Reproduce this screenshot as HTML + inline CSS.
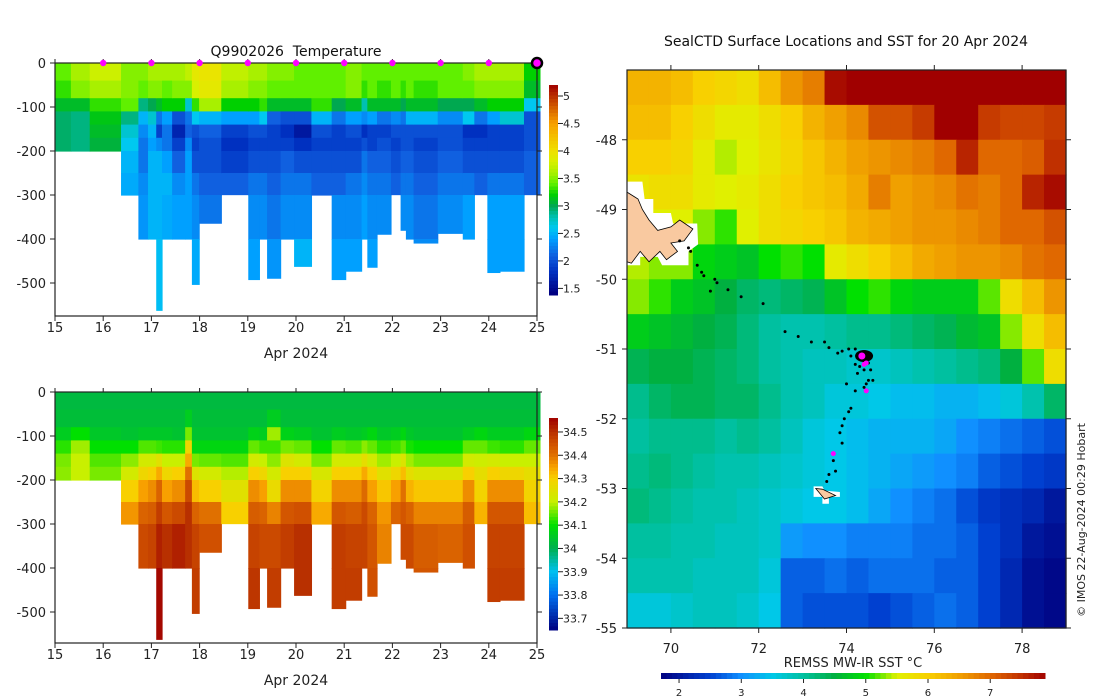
<!DOCTYPE html>
<html><head><meta charset="utf-8">
<style>
body{margin:0;background:#fff;}
svg{display:block;font-family:"DejaVu Sans","Liberation Sans",sans-serif;}
</style></head>
<body>
<svg id="s" width="1100" height="700" viewBox="0 0 1100 700" xmlns="http://www.w3.org/2000/svg">
<rect width="1100" height="700" fill="#fff"/>
<g id="gT"></g>
<g id="gS"></g>
<g id="gM"></g>
</svg>
<script>
// ---- Section data ----
const colStart=[15.0,15.33,15.72,16.37,16.73,16.93,17.10,17.22,17.43,17.70,17.84,17.99,18.45,19.01,19.24,19.40,19.68,19.96,20.32,20.74,21.03,21.36,21.48,21.68,21.97,22.17,22.28,22.44,22.94,23.46,23.70,23.97,24.23,24.73];
const colEnd=25.06;
const colMaxDepth=[202,202,200,335,412,401,562,401,428,401,503,364,299,492,418,489,435,462,320,492,473,401,464,389,299,380,401,409,387,437,299,476,473,299];
const binEdges=[0,40,80,110,140,170,200,250,300,400,600];
const tempProfiles=[
[3.4,3.3,3.1,2.95,2.95,2.95],
[3.6,3.5,3.1,2.9,2.9,2.9],
[3.75,3.6,3.3,3.15,3.1,3.05],
[3.5,3.5,3.4,2.9,2.7,2.6,2.5,2.45],
[3.5,3.4,2.9,2.5,2.3,2.2,2.2,2.3,2.35],
[3.6,3.5,3.0,2.7,2.5,2.4,2.5,2.5,2.5],
[3.6,3.5,3.1,2.2,1.9,2.3,2.5,2.5,2.5,2.55],
[3.6,3.4,3.2,2.4,2.2,2.2,2.4,2.5,2.45],
[3.6,3.5,3.2,2.0,1.7,1.9,2.1,2.3,2.4],
[3.7,3.5,2.7,2.2,2.1,2.3,2.4,2.4,2.4],
[3.9,3.8,3.3,2.6,2.0,1.9,2.0,2.2,2.3,2.45],
[3.95,3.9,3.6,2.5,2.1,2.0,2.0,2.1,2.2],
[3.7,3.6,3.2,2.4,1.9,1.8,1.9,2.1],
[3.6,3.5,3.2,2.4,2.0,1.9,2.0,2.2,2.3,2.4],
[3.6,3.5,3.3,2.6,2.0,1.9,2.0,2.2,2.3],
[3.5,3.4,3.1,2.1,1.9,1.9,2.0,2.1,2.2,2.35],
[3.5,3.4,3.1,2.0,1.8,1.9,2.1,2.2,2.3],
[3.4,3.4,3.1,2.0,1.6,1.8,2.0,2.2,2.3,2.5],
[3.4,3.4,3.3,2.5,2.0,1.9,2.0,2.1],
[3.4,3.4,3.0,2.2,1.9,1.9,2.0,2.1,2.3,2.4],
[3.5,3.5,3.1,2.4,2.0,1.9,2.0,2.2,2.3,2.4],
[3.4,3.3,2.8,2.3,1.8,2.0,2.2,2.3,2.4],
[3.4,3.4,3.1,2.4,1.9,1.9,2.1,2.2,2.3,2.4],
[3.4,3.3,3.1,2.2,1.9,2.0,2.1,2.2,2.3],
[3.4,3.4,3.1,2.3,2.0,1.9,2.0,2.1],
[3.4,3.3,3.0,2.2,2.0,2.0,2.1,2.2,2.3],
[3.4,3.4,3.1,2.5,2.0,2.0,2.1,2.2,2.3],
[3.4,3.3,3.1,2.5,2.0,1.9,2.0,2.1,2.2,2.3],
[3.4,3.4,3.0,2.3,2.0,2.0,2.1,2.2,2.3],
[3.5,3.4,3.0,2.6,1.8,1.9,2.0,2.2,2.4],
[3.6,3.5,3.1,2.2,1.8,1.9,2.0,2.1],
[3.6,3.5,3.2,2.4,1.9,1.9,2.0,2.2,2.4,2.4],
[3.6,3.5,3.2,2.7,1.9,1.9,2.0,2.2,2.4,2.4],
[3.2,3.1,2.6,2.0,2.0,2.0,2.1,2.1]];
const salProfiles=[
[34.02,34.03,34.06,34.12,34.16,34.17],
[34.02,34.03,34.1,34.18,34.2,34.2],
[34.02,34.03,34.05,34.1,34.14,34.16],
[34.02,34.03,34.04,34.1,34.17,34.22,34.3,34.36],
[34.02,34.03,34.05,34.14,34.22,34.28,34.35,34.42,34.46],
[34.02,34.03,34.05,34.14,34.22,34.3,34.37,34.43,34.47],
[34.02,34.03,34.05,34.13,34.25,34.34,34.42,34.48,34.52,34.55],
[34.02,34.03,34.05,34.12,34.2,34.28,34.35,34.44,34.5],
[34.02,34.03,34.04,34.12,34.2,34.3,34.37,34.46,34.52],
[34.02,34.06,34.16,34.28,34.34,34.4,34.46,34.5,34.5],
[34.02,34.03,34.04,34.08,34.16,34.24,34.32,34.42,34.47,34.48],
[34.02,34.03,34.04,34.08,34.15,34.22,34.3,34.4,34.45],
[34.02,34.03,34.04,34.08,34.14,34.19,34.25,34.3],
[34.02,34.03,34.07,34.15,34.22,34.3,34.37,34.43,34.47,34.49],
[34.02,34.03,34.06,34.13,34.2,34.28,34.35,34.42,34.46],
[34.02,34.06,34.18,34.13,34.17,34.22,34.27,34.38,34.46,34.48],
[34.02,34.03,34.07,34.16,34.24,34.3,34.37,34.44,34.48],
[34.02,34.03,34.06,34.15,34.22,34.3,34.37,34.45,34.5,34.5],
[34.02,34.03,34.04,34.1,34.16,34.23,34.29,34.34],
[34.02,34.03,34.06,34.15,34.22,34.3,34.37,34.44,34.48,34.48],
[34.02,34.03,34.05,34.14,34.22,34.3,34.37,34.43,34.47,34.48],
[34.02,34.03,34.06,34.17,34.26,34.34,34.41,34.46,34.47],
[34.02,34.03,34.08,34.15,34.22,34.3,34.35,34.42,34.44,34.45],
[34.02,34.03,34.05,34.12,34.18,34.25,34.31,34.36,34.38],
[34.02,34.03,34.06,34.13,34.2,34.28,34.35,34.42],
[34.02,34.03,34.08,34.15,34.24,34.32,34.4,34.44,34.46],
[34.02,34.03,34.05,34.11,34.18,34.26,34.33,34.42,34.46],
[34.02,34.03,34.04,34.1,34.16,34.24,34.31,34.38,34.43,34.44],
[34.02,34.03,34.04,34.1,34.16,34.24,34.31,34.38,34.42],
[34.02,34.03,34.06,34.15,34.22,34.3,34.37,34.43,34.45],
[34.02,34.03,34.08,34.15,34.21,34.26,34.29,34.33],
[34.02,34.03,34.06,34.13,34.22,34.3,34.37,34.44,34.47,34.48],
[34.02,34.03,34.06,34.12,34.2,34.28,34.37,34.44,34.47,34.48],
[34.02,34.03,34.08,34.15,34.2,34.26,34.29,34.32]];
const surfDays=[16,17,18,19,20,21,22,23,24];
const lastDay=25;
const dayTicks=[15,16,17,18,19,20,21,22,23,24,25];
const depthTicks=[0,-100,-200,-300,-400,-500];
const tempCbTicks=[1.5,2,2.5,3,3.5,4,4.5,5];
const salCbTicks=[33.7,33.8,33.9,34,34.1,34.2,34.3,34.4,34.5];

// ---- Map data (0.5 deg cells, lat -47 to -55, lon 69 to 79) ----
const sstRows=[
[6.3,6.3,6.2,6.0,5.9,5.8,6.2,6.6,6.8,7.8,7.9,7.9,7.9,7.9,7.9,7.9,7.9,7.9,7.9,7.9],
[6.2,6.2,6.0,5.8,5.6,5.6,5.8,6.0,6.3,6.5,6.7,7.2,7.2,7.4,7.9,7.9,7.4,7.3,7.3,7.4],
[6.0,6.0,5.9,5.6,5.4,5.5,5.7,5.9,6.1,6.3,6.5,6.6,6.7,6.8,7.0,7.6,7.0,7.0,7.1,7.5],
[5.7,5.8,5.8,5.6,5.5,5.6,5.8,6.0,6.1,6.2,6.4,6.8,6.5,6.6,6.7,6.9,6.8,7.0,7.6,7.8],
[5.5,5.5,5.5,5.3,5.1,5.5,5.8,5.9,6.0,6.1,6.3,6.4,6.5,6.6,6.6,6.7,6.8,7.0,7.0,7.2],
[5.4,5.3,5.3,4.9,4.8,4.7,5.0,5.1,5.0,5.6,5.8,6.0,6.2,6.4,6.5,6.6,6.6,6.7,6.9,7.0],
[5.3,5.1,4.8,4.7,4.5,4.3,4.2,4.3,4.4,4.7,5.0,5.1,4.9,4.8,4.8,4.8,5.2,5.8,6.2,6.6],
[4.8,4.7,4.6,4.5,4.4,4.2,4.0,3.9,3.9,4.0,4.1,4.1,4.2,4.3,4.4,4.6,4.7,5.3,5.8,6.2],
[4.4,4.5,4.5,4.4,4.3,4.2,4.0,3.9,3.8,3.8,3.7,3.7,3.8,3.9,4.0,4.1,4.2,4.5,5.2,5.8],
[4.1,4.3,4.4,4.4,4.3,4.3,4.1,3.9,3.8,3.6,3.6,3.5,3.4,3.4,3.3,3.3,3.4,3.6,3.9,4.3],
[4.0,4.1,4.1,4.1,4.0,4.1,4.0,3.8,3.6,3.5,3.4,3.3,3.3,3.3,3.2,3.0,2.9,2.8,2.7,2.6],
[4.1,4.2,4.1,4.0,3.9,3.9,3.8,3.7,3.6,3.5,3.4,3.3,3.2,3.1,3.0,2.9,2.7,2.6,2.5,2.4],
[4.2,4.1,4.0,3.9,3.9,3.8,3.7,3.6,3.5,3.5,3.4,3.2,3.0,2.9,2.8,2.6,2.4,2.3,2.2,2.0],
[4.0,4.0,3.9,3.9,3.8,3.8,3.7,3.1,3.0,3.0,2.9,2.9,2.9,2.8,2.8,2.7,2.5,2.3,2.0,1.9],
[3.9,3.9,3.9,3.8,3.8,3.8,3.6,2.7,2.7,2.8,2.7,2.8,2.8,2.8,2.7,2.7,2.5,2.2,1.9,1.8],
[3.6,3.6,3.7,3.8,3.8,3.7,3.5,2.7,2.6,2.6,2.6,2.5,2.6,2.7,2.8,2.7,2.5,2.2,1.9,1.8]];
const trackLon=[70.2,70.4,70.45,70.6,70.7,70.75,71.0,71.05,70.9,71.3,71.6,72.1,72.6,72.9,73.2,73.5,73.6,73.9,74.05,73.8,74.1,74.2,74.3,74.4,74.5,74.55,74.6,74.45,74.4,74.25,74.0,74.2,74.5,74.4,74.3,74.2,74.3,74.1,74.05,73.95,73.9,73.85,73.9,73.7,73.75,73.6,73.55];
const trackLat=[-49.45,-49.55,-49.6,-49.8,-49.9,-49.95,-50.0,-50.05,-50.17,-50.15,-50.25,-50.35,-50.75,-50.82,-50.9,-50.9,-50.98,-51.03,-51.0,-51.06,-51.1,-51.0,-51.15,-51.2,-51.2,-51.3,-51.45,-51.5,-51.3,-51.35,-51.5,-51.6,-51.45,-51.55,-51.25,-51.22,-51.12,-51.85,-51.9,-52.0,-52.1,-52.2,-52.35,-52.6,-52.75,-52.8,-52.9];
const magLon=[74.45,73.7,74.4,74.45];
const magLat=[-51.6,-52.5,-51.22,-51.2];
const curLon=74.35, curLat=-51.1;
const lonTicks=[70,72,74,76,78];
const latTicks=[-48,-49,-50,-51,-52,-53,-54,-55];
const sstCbTicks=[2,3,4,5,6,7];

// ---- helpers ----
const NS='http://www.w3.org/2000/svg';
function mk(parent,tag,attrs,text){const e=document.createElementNS(NS,tag);for(const k in attrs)e.setAttribute(k,attrs[k]);if(text!==undefined)e.textContent=text;parent.appendChild(e);return e;}
function hex(h){return [parseInt(h.substr(1,2),16),parseInt(h.substr(3,2),16),parseInt(h.substr(5,2),16)];}
function lerpStops(stops,v){if(v<=stops[0][0])return stops[0][1];for(let i=1;i<stops.length;i++){if(v<=stops[i][0]){const a=stops[i-1],b=stops[i];const t=(v-a[0])/(b[0]-a[0]);const ca=hex(a[1]),cb=hex(b[1]);return 'rgb('+ca.map((c,j)=>Math.round(c+(cb[j]-c)*t)).join(',')+')';}}return stops[stops.length-1][1];}
const tempStops=[[1.4,'#000080'],[1.8,'#0030c0'],[2.1,'#1060e0'],[2.4,'#00a0ff'],[2.6,'#00c8f0'],[2.8,'#00c0b0'],[3.0,'#00a850'],[3.2,'#00d000'],[3.4,'#60f000'],[3.6,'#a8f000'],[3.8,'#d8f000'],[4.0,'#f0e000'],[4.5,'#f8a000'],[5.2,'#a00000']];
const salStops=[[33.65,'#000080'],[33.8,'#0070f0'],[33.9,'#00c0f0'],[34.0,'#00b050'],[34.1,'#00e000'],[34.2,'#c8f000'],[34.3,'#f8d000'],[34.35,'#f8a000'],[34.4,'#e07000'],[34.45,'#d05000'],[34.5,'#b83000'],[34.56,'#a00000']];
const sstStops=[[1.7,'#00007f'],[2.5,'#0040d0'],[3.0,'#1090ff'],[3.5,'#00c8e8'],[4.0,'#00c0a0'],[4.5,'#00b040'],[5.0,'#00e000'],[5.5,'#e0f000'],[6.0,'#f8d000'],[6.5,'#f0a000'],[7.0,'#e06800'],[7.5,'#c03000'],[7.9,'#a00000']];

function section(g,x0,x1,y0,y1,stops,profiles,cbY0,cbY1,cbMin,cbMax,cbTicks,withDots,title,xlab){
  const xs=d=>x0+(d-15)/10*(x1-x0);
  const ys=m=>y0+m*0.44;
  for(let c=0;c<colStart.length;c++){
    const a=xs(colStart[c]),b=xs(c+1<colStart.length?colStart[c+1]:colEnd);
    const prof=profiles[c];
    for(let k=0;k<prof.length;k++){
      const top=binEdges[k],bot=Math.min(binEdges[k+1],colMaxDepth[c]);
      if(top>=colMaxDepth[c])break;
      const r=mk(g,'rect',{x:a.toFixed(2),y:ys(top).toFixed(2),width:(b-a+0.6).toFixed(2),height:(ys(bot)-ys(top)+0.6).toFixed(2),fill:lerpStops(stops,prof[k])});
      
      
    }
  }
  mk(g,'rect',{x:x0,y:y0,width:x1-x0,height:y1-y0,fill:'none',stroke:'#222','stroke-width':1.2});
  for(const d of dayTicks){const x=xs(d);mk(g,'line',{x1:x,x2:x,y1:y1,y2:y1+5,stroke:'#222'});mk(g,'line',{x1:x,x2:x,y1:y0,y2:y0-4,stroke:'#222'});
    const t=mk(g,'text',{x:x,y:y1+16,'text-anchor':'middle','font-size':13,fill:'#222'},d);}
  for(const m of depthTicks){const y=ys(-m);mk(g,'line',{x1:x0-5,x2:x0,y1:y,y2:y,stroke:'#222'});mk(g,'line',{x1:x1,x2:x1+5,y1:y,y2:y,stroke:'#222'});
    const t=mk(g,'text',{x:x0-9,y:y+5,'text-anchor':'end','font-size':13,fill:'#222'},m);}
  const xl=mk(g,'text',{x:(x0+x1)/2,y:y1+42,'text-anchor':'middle','font-size':14,fill:'#222'},xlab);
  if(title){const tt=mk(g,'text',{x:(x0+x1)/2,y:y0-7,'text-anchor':'middle','font-size':14,fill:'#111'},title);}
  const cb=mk(g,'g',{});
  const n=60;for(let i=0;i<n;i++){const v=cbMax-(i+0.5)/n*(cbMax-cbMin);mk(cb,'rect',{x:549,y:cbY0+i*(cbY1-cbY0)/n,width:9,height:(cbY1-cbY0)/n+0.5,fill:lerpStops(stops,v)});}
  const cy=v=>cbY1-(v-cbMin)/(cbMax-cbMin)*(cbY1-cbY0);
  for(const v of cbTicks){const y=cy(v);mk(cb,'line',{x1:558,x2:563,y1:y,y2:y,stroke:'#222'});const t=mk(cb,'text',{x:563,y:y+4,'font-size':11,fill:'#222'},String(v));}
  if(withDots){for(const d of surfDays){const c=mk(g,'circle',{cx:xs(d),cy:y0,r:3.2,fill:'#ff00ff'});}
    const c=mk(g,'circle',{cx:xs(lastDay),cy:y0,r:5,fill:'#ff00ff',stroke:'#000','stroke-width':2.5});}
}
section(document.getElementById('gT'),55,537,63,316,tempStops,tempProfiles,85,295,1.38,5.2,tempCbTicks,true,'Q9902026\u00a0\u00a0Temperature','Apr 2024');
section(document.getElementById('gS'),55,537,392,643,salStops,salProfiles,418,630,33.65,34.56,salCbTicks,false,null,'Apr 2024');

// ---- map ----
(function(){
  const g=document.getElementById('gM');
  const X0=627,X1=1066,Y0=70,Y1=628;
  const lx=l=>X0+(l-69)/10*(X1-X0);
  const ly=l=>Y0+(-47-l)/8*(Y1-Y0);
  for(let r=0;r<sstRows.length;r++)for(let c=0;c<sstRows[r].length;c++){
    const v=sstRows[r][c];
    const x=lx(69+c*0.5),y=ly(-47-r*0.5);
    const e=mk(g,'rect',{x:x.toFixed(2),y:y.toFixed(2),width:(lx(69.5)-lx(69)+0.6).toFixed(2),height:(ly(-47.5)-ly(-47)+0.6).toFixed(2),fill:lerpStops(sstStops,v)});
    
    
  }
  const kw=[[69,-48.6],[69.35,-48.6],[69.4,-48.85],[69.6,-48.85],[69.6,-49.05],[70.0,-49.05],[70.05,-49.2],[70.6,-49.2],[70.62,-49.5],[70.4,-49.6],[70.4,-49.8],[69.8,-49.8],[69.7,-49.68],[69.3,-49.68],[69.3,-49.8],[69,-49.8]];
  const kp=[[69,-48.75],[69.25,-48.85],[69.35,-49.0],[69.5,-49.15],[69.7,-49.3],[70.0,-49.25],[70.2,-49.15],[70.5,-49.28],[70.3,-49.45],[70.0,-49.48],[70.15,-49.6],[69.9,-49.72],[69.75,-49.6],[69.5,-49.75],[69.3,-49.6],[69.1,-49.77],[69,-49.75]];
  const P=a=>a.map(p=>lx(p[0]).toFixed(1)+','+ly(p[1]).toFixed(1)).join(' ');
  let e=mk(g,'polygon',{points:P(kw),fill:'#fff'});
  e=mk(g,'polygon',{points:P(kp),fill:'#f9c9a0',stroke:'#000','stroke-width':0.8});
  const hw=[[73.25,-52.97],[73.45,-52.97],[73.5,-53.03],[73.85,-53.05],[73.85,-53.12],[73.6,-53.12],[73.6,-53.22],[73.45,-53.22],[73.45,-53.12],[73.25,-53.12]];
  const hp=[[73.3,-53.0],[73.45,-53.01],[73.75,-53.1],[73.5,-53.15],[73.38,-53.06]];
  e=mk(g,'polygon',{points:P(hw),fill:'#fff'});
  e=mk(g,'polygon',{points:P(hp),fill:'#f9c9a0',stroke:'#000','stroke-width':0.8});
  for(let i=0;i<trackLon.length;i++){const c=mk(g,'circle',{cx:lx(trackLon[i]),cy:ly(trackLat[i]),r:1.5,fill:'#000'});}
  e=mk(g,'ellipse',{cx:lx(curLon+0.05),cy:ly(curLat),rx:9,ry:6,fill:'#000'});
  for(let i=0;i<magLon.length;i++){const c=mk(g,'circle',{cx:lx(magLon[i]),cy:ly(magLat[i]),r:2.5,fill:'#ff00ff'});}
  e=mk(g,'circle',{cx:lx(curLon),cy:ly(curLat),r:4.5,fill:'#ff00ff',stroke:'#000','stroke-width':2});
  mk(g,'rect',{x:X0,y:Y0,width:X1-X0,height:Y1-Y0,fill:'none',stroke:'#222','stroke-width':1.2});
  for(const l of lonTicks){const x=lx(l);mk(g,'line',{x1:x,x2:x,y1:Y1,y2:Y1+5,stroke:'#222'});mk(g,'line',{x1:x,x2:x,y1:Y0,y2:Y0-5,stroke:'#222'});
    const t=mk(g,'text',{x:x,y:Y1+25,'text-anchor':'middle','font-size':13,fill:'#222'},l);}
  for(const l of latTicks){const y=ly(l);mk(g,'line',{x1:X0-5,x2:X0,y1:y,y2:y,stroke:'#222'});mk(g,'line',{x1:X1,x2:X1+5,y1:y,y2:y,stroke:'#222'});
    const t=mk(g,'text',{x:X0-10,y:y+5,'text-anchor':'end','font-size':13,fill:'#222'},l);}
  let t=mk(g,'text',{x:846,y:46,'text-anchor':'middle','font-size':14,fill:'#111'},'SealCTD Surface Locations and SST for 20 Apr 2024');
  t=mk(g,'text',{x:853,y:667,'text-anchor':'middle','font-size':13,fill:'#222'},'REMSS MW-IR SST °C');
  t=mk(g,'text',{x:0,y:0,'text-anchor':'middle','font-size':11,fill:'#222',transform:'translate(1085,520) rotate(-90)'},'© IMOS 22-Aug-2024 00:29 Hobart');
  const cb=mk(g,'g',{});
  const cx0=661,cx1=1045,vmin=1.71,vmax=7.88,n=70;
  for(let i=0;i<n;i++){const v=vmin+(i+0.5)/n*(vmax-vmin);mk(cb,'rect',{x:cx0+i*(cx1-cx0)/n,y:673,width:(cx1-cx0)/n+0.5,height:6,fill:lerpStops(sstStops,v)});}
  for(const v of sstCbTicks){const x=cx0+(v-vmin)/(vmax-vmin)*(cx1-cx0);mk(cb,'line',{x1:x,x2:x,y1:679,y2:683,stroke:'#222'});const tt=mk(cb,'text',{x:x,y:696,'text-anchor':'middle','font-size':10,fill:'#222'},v);}
})();
</script>
</body></html>
